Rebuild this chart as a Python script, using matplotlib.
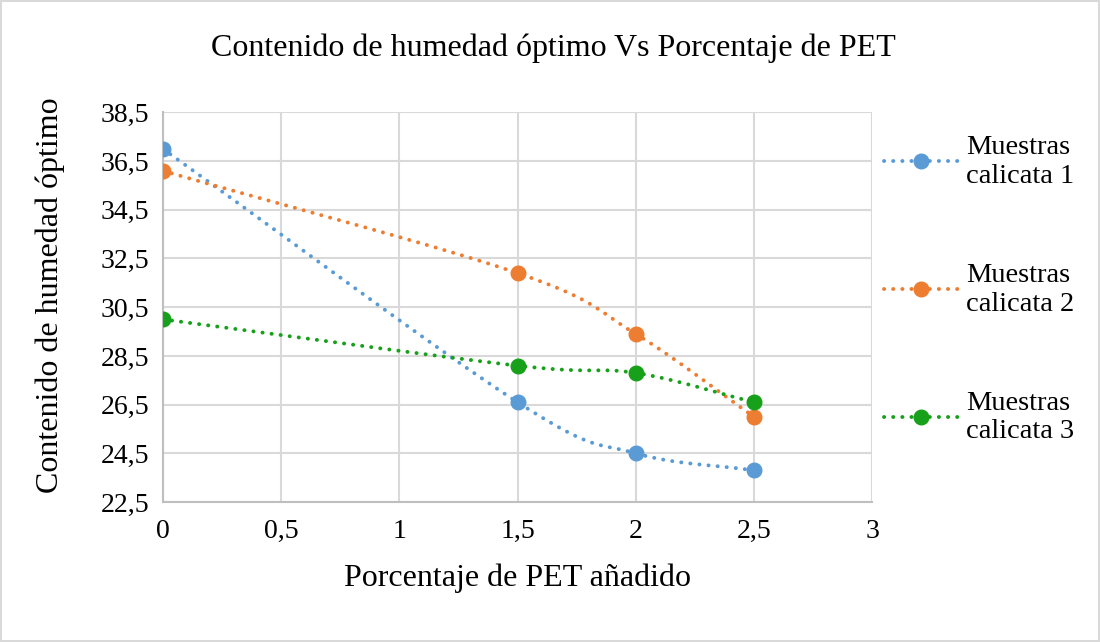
import numpy as np
import matplotlib
matplotlib.use("Agg")
import matplotlib.pyplot as plt

# datos
pet = [0, 1.5, 2, 2.5]
calicata_1 = [37.0, 26.6, 24.5, 23.8]
calicata_2 = [36.1, 31.9, 29.4, 26.0]
calicata_3 = [30.0, 28.1, 27.8, 26.6]
series_labels = ["Muestras\ncalicata 1", "Muestras\ncalicata 2", "Muestras\ncalicata 3"]
colors = ["#5b9bd5", "#ed7d31", "#17a11a"]
y_ticks = [22.5, 24.5, 26.5, 28.5, 30.5, 32.5, 34.5, 36.5, 38.5]
x_ticks = [0, 0.5, 1, 1.5, 2, 2.5, 3]


def smooth(x, y, n=40):
    """ linea suavizada tipo Excel (Catmull-Rom) """
    x = np.asarray(x, float)
    y = np.asarray(y, float)
    px = np.concatenate([[2 * x[0] - x[1]], x, [2 * x[-1] - x[-2]]])
    py = np.concatenate([[2 * y[0] - y[1]], y, [2 * y[-1] - y[-2]]])
    xs, ys = [], []
    t = np.linspace(0, 1, n)
    for i in range(1, len(px) - 2):
        for p, out in ((px, xs), (py, ys)):
            p0, p1, p2, p3 = p[i - 1], p[i], p[i + 1], p[i + 2]
            out.extend(0.5 * ((2 * p1) + (-p0 + p2) * t
                              + (2 * p0 - 5 * p1 + 4 * p2 - p3) * t ** 2
                              + (-p0 + 3 * p1 - 3 * p2 + p3) * t ** 3))
    return np.array(xs), np.array(ys)


plt.rcParams["font.family"] = ["Liberation Serif", "DejaVu Serif"]

fig = plt.figure(figsize=(11, 6.42), dpi=100)
fig.patch.set_edgecolor("#d9d9d9")
fig.patch.set_linewidth(1.5)
ax = fig.add_axes([0.148, 0.218, 0.645, 0.607])

dots = (0, (0.05, 2.3))
for vals, label, c in zip([calicata_1, calicata_2, calicata_3], series_labels, colors):
    sx, sy = smooth(pet, vals)
    ax.plot(sx, sy, color=c, lw=2.8, linestyle=dots,
            dash_capstyle="round", zorder=3)
    ax.plot(pet, vals, "o", color=c, ms=10.5, zorder=4)
    # entrada de leyenda
    ax.plot([], [], color=c, lw=2.8, linestyle=dots,
            dash_capstyle="round", marker="o", ms=10.5, label=label)

ax.set_xlim(0, 3)
ax.set_ylim(22.5, 38.5)
ax.set_xticks(x_ticks)
ax.set_yticks(y_ticks)
ax.set_xticklabels([str(v).replace(".", ",") for v in x_ticks], fontsize=20)
ax.set_yticklabels([str(v).replace(".", ",") for v in y_ticks], fontsize=20)
ax.tick_params(axis="x", length=0, pad=12)
ax.tick_params(axis="y", length=0, pad=10)
ax.grid(True, color="#d9d9d9", lw=1.5)
ax.set_axisbelow(True)
for s in ["top", "right"]:
    ax.spines[s].set_visible(False)
for s in ["left", "bottom"]:
    ax.spines[s].set_color("#bfbfbf")
    ax.spines[s].set_linewidth(1.5)

fig.text(0.503, 0.925, "Contenido de humedad óptimo Vs Porcentaje de PET",
         fontsize=23, ha="center", va="center")
ax.set_xlabel("Porcentaje de PET añadido", fontsize=23, labelpad=14)
ax.set_ylabel("Contenido de humedad óptimo", fontsize=23)
ax.yaxis.set_label_coords(-0.138, 0.53)

leg = ax.legend(loc="center left", bbox_to_anchor=(0.98, 0.545), frameon=False,
                fontsize=20.5, labelspacing=2.6, handlelength=2.6, handletextpad=0.3)
for t in leg.get_texts():
    t.set_multialignment("left")

fig.savefig("out.png", dpi=100)
